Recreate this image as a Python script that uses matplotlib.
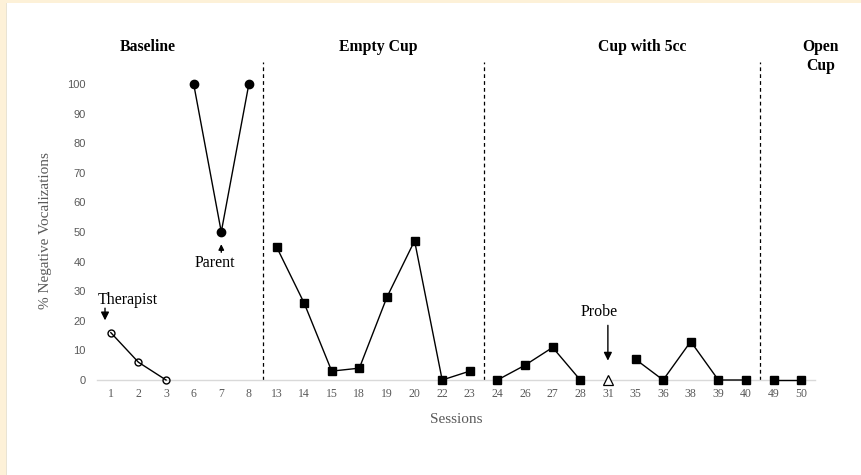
import numpy as np
import matplotlib
matplotlib.use("Agg")
import matplotlib.pyplot as plt
from matplotlib.patches import Rectangle

# --- Data ---
sessions = ["1", "2", "3", "6", "7", "8", "13", "14", "15", "18", "19", "20", "22",
            "23", "24", "26", "27", "28", "31", "35", "36", "38", "39", "40", "49", "50"]
nan = np.nan
# % negative vocalizations per session, split by condition (nan = not in series)
therapist = [16, 6, 0] + [nan] * 23
parent = [nan] * 3 + [100, 50, 100] + [nan] * 20
empty_cup = [nan] * 6 + [45, 26, 3, 4, 28, 47, 0, 3] + [nan] * 12
cup_5cc = [nan] * 14 + [0, 5, 11, 0, nan, 7, 0, 13, 0, 0] + [nan] * 2
open_cup = [nan] * 24 + [0, 0]
probe = [nan] * 18 + [0] + [nan] * 7

phase_breaks = [5.5, 13.5, 23.5]
phase_labels = ["Baseline", "Empty Cup", "Cup with 5cc", "Open\nCup"]
phase_label_x = [1.35, 9.68, 19.25, 25.7]

SERIF = "Liberation Serif"
GREY = "#595959"

fig = plt.figure(figsize=(8.61, 4.75), dpi=100)
fig.patch.set_facecolor("white")
# cream frame along the left and top edges
fig.patches.append(Rectangle((0, 0), 6 / 861, 1, transform=fig.transFigure,
                             facecolor="#fdf1d8", edgecolor="none", zorder=0))
fig.patches.append(Rectangle((6 / 861, 0), 1.2 / 861, 1, transform=fig.transFigure,
                             facecolor="#e9e3d3", edgecolor="none", zorder=0))
fig.patches.append(Rectangle((0, 1 - 3 / 475), 1, 3 / 475, transform=fig.transFigure,
                             facecolor="#fdf1d8", edgecolor="none", zorder=0))

ax = fig.add_axes([97 / 861, 1 - 380 / 475, 718 / 861, 318 / 475])
x = np.arange(len(sessions))

line_kw = dict(color="black", linewidth=1.0, clip_on=False, zorder=3)
# hollow circles: the connecting line shows through them
ax.plot(x, therapist, marker="o", markersize=5, markerfacecolor="none",
        markeredgecolor="black", markeredgewidth=1.0, **line_kw)
ax.plot(x, parent, marker="o", markersize=6, markerfacecolor="black",
        markeredgecolor="black", **line_kw)
for series in (empty_cup, cup_5cc, open_cup):
    ax.plot(x, series, marker="s", markersize=6.3, markerfacecolor="black",
            markeredgecolor="black", **line_kw)
ax.plot(x, probe, linestyle="none", marker="^", markersize=6.5, clip_on=False, zorder=3,
        markerfacecolor="white", markeredgecolor="black", markeredgewidth=0.9)

# phase change lines
for b in phase_breaks:
    ax.axvline(b, color="black", linestyle=(0, (3, 2.5)), linewidth=0.9)

# phase titles
for label, lx in zip(phase_labels, phase_label_x):
    ly = 109.2 if "\n" in label else 112.3
    ax.text(lx, ly, label, ha="center", va="center", fontsize=11.3,
            fontweight="bold", family=SERIF, clip_on=False, linespacing=1.25)

# annotations
arrow = dict(arrowstyle="-|>", color="black", linewidth=1.0, mutation_scale=12)
short_arrow = dict(arrow, mutation_scale=8)
ax.text(0.62, 27.0, "Therapist", ha="center", va="center", fontsize=11.5, family=SERIF)
ax.annotate("", xy=(-0.21, 19.2), xytext=(-0.21, 25.2), arrowprops=arrow)
ax.text(3.78, 39.6, "Parent", ha="center", va="center", fontsize=11.5, family=SERIF)
ax.annotate("", xy=(4.0, 46.8), xytext=(4.0, 42.2), arrowprops=short_arrow)
ax.text(17.7, 23.0, "Probe", ha="center", va="center", fontsize=11.5, family=SERIF)
ax.annotate("", xy=(18.0, 5.6), xytext=(18.0, 19.4), arrowprops=arrow)

# axes styling
ax.set_xlim(-0.5, 25.5)
ax.set_ylim(0, 107.4)
ax.set_xticks(x)
ax.set_xticklabels(sessions, family=SERIF, fontsize=8.5, color=GREY)
ax.set_yticks(range(0, 101, 10))
ax.set_yticklabels([str(v) for v in range(0, 101, 10)], family="Liberation Sans",
                   fontsize=8, color=GREY)
ax.tick_params(axis="both", length=0)
ax.tick_params(axis="x", pad=5.5)
ax.tick_params(axis="y", pad=8)
for side in ("top", "right", "left"):
    ax.spines[side].set_visible(False)
ax.spines["bottom"].set_color("#d9d9d9")
ax.spines["bottom"].set_linewidth(1.0)
ax.set_facecolor("none")

ax.set_xlabel("Sessions", family=SERIF, fontsize=11, color=GREY)
ax.xaxis.set_label_coords(0.5, -0.104)
ax.set_ylabel("% Negative Vocalizations", family=SERIF, fontsize=11, color=GREY)
ax.yaxis.set_label_coords(-0.063, 0.47)

fig.savefig("out.png", dpi=100)
